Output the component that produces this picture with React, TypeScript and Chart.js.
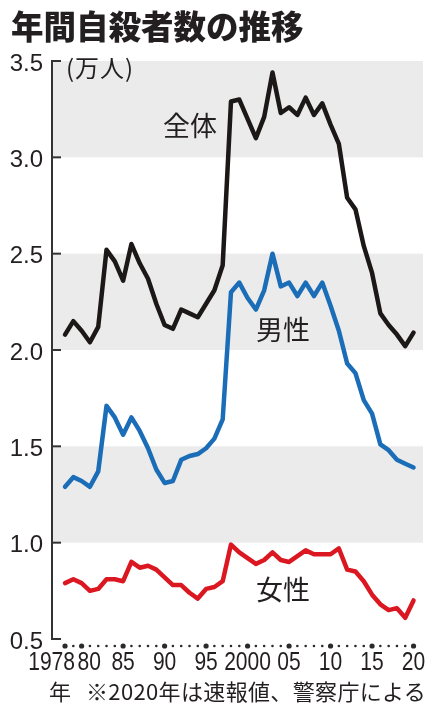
import React, { useEffect, useRef } from "react";
import { Chart, registerables } from "chart.js";

Chart.register(...registerables);

// ---- data (万人) ----
const years = [
  1978, 1979, 1980, 1981, 1982, 1983, 1984, 1985, 1986, 1987, 1988, 1989,
  1990, 1991, 1992, 1993, 1994, 1995, 1996, 1997, 1998, 1999, 2000, 2001,
  2002, 2003, 2004, 2005, 2006, 2007, 2008, 2009, 2010, 2011, 2012, 2013,
  2014, 2015, 2016, 2017, 2018, 2019, 2020,
];
const total = [
  2.08, 2.15, 2.10, 2.04, 2.12, 2.52, 2.46, 2.36, 2.55, 2.45, 2.37, 2.24,
  2.13, 2.11, 2.21, 2.19, 2.17, 2.24, 2.31, 2.44, 3.29, 3.30, 3.20, 3.10,
  3.21, 3.44, 3.23, 3.26, 3.22, 3.31, 3.22, 3.28, 3.17, 3.07, 2.79, 2.73,
  2.54, 2.40, 2.19, 2.13, 2.08, 2.02, 2.09,
];
const male = [
  1.29, 1.34, 1.32, 1.29, 1.37, 1.71, 1.65, 1.56, 1.65, 1.58, 1.49, 1.38,
  1.31, 1.32, 1.43, 1.45, 1.46, 1.49, 1.54, 1.64, 2.30, 2.35, 2.27, 2.21,
  2.31, 2.50, 2.33, 2.35, 2.28, 2.35, 2.28, 2.35, 2.23, 2.10, 1.93, 1.88,
  1.74, 1.67, 1.51, 1.48, 1.43, 1.41, 1.39,
];
const female = [
  0.79, 0.81, 0.79, 0.75, 0.76, 0.81, 0.81, 0.80, 0.90, 0.87, 0.88, 0.86,
  0.82, 0.78, 0.78, 0.74, 0.71, 0.76, 0.77, 0.80, 0.99, 0.95, 0.92, 0.89,
  0.91, 0.95, 0.91, 0.90, 0.93, 0.96, 0.94, 0.94, 0.94, 0.97, 0.86, 0.85,
  0.80, 0.73, 0.68, 0.65, 0.66, 0.61, 0.70,
];
const yTickValues = [0.5, 1.0, 1.5, 2.0, 2.5, 3.0, 3.5];
const xLabelYears = [1978, 1980, 1985, 1990, 1995, 2000, 2005, 2010, 2015, 2020];
const xLabelTexts = ["1978", "80", "85", "90", "95", "2000", "05", "10", "15", "20"];
const bandRanges = [
  [1.0, 1.5],
  [2.0, 2.5],
  [3.0, 3.5],
];

const TITLE = "年間自殺者数の推移";
const UNIT = "(万人)";
const NAME_TOTAL = "全体";
const NAME_MALE = "男性";
const NAME_FEMALE = "女性";
const NOTE_YEAR = "年";
const NOTE = "※2020年は速報値、警察庁による";

const NUM_FONT = '"Liberation Sans", Arial, sans-serif';
const JP_FONT = '"Noto Sans CJK JP", "Noto Sans", sans-serif';
const INK = "#231f20";

const decorPlugin = {
  id: "decor",
  beforeDatasetsDraw(chart: any) {
    const { ctx, chartArea } = chart;
    const y = chart.scales.y;
    ctx.save();
    ctx.fillStyle = "#ebebeb";
    bandRanges.forEach(([a, b]) => {
      const y1 = y.getPixelForValue(b);
      const y2 = y.getPixelForValue(a);
      ctx.fillRect(chartArea.left + 1, y1, chartArea.right - chartArea.left - 1, y2 - y1);
    });
    // y axis line + inward ticks
    ctx.fillStyle = "#333333";
    const ax = chartArea.left - 1;
    const yTop = y.getPixelForValue(3.5);
    const yBot = y.getPixelForValue(0.5);
    ctx.fillRect(ax, yTop - 1, 2, yBot - yTop + 2);
    yTickValues.forEach((v) => {
      ctx.fillRect(ax, y.getPixelForValue(v) - 1, 10, 2);
    });
    ctx.restore();
  },
  afterDraw(chart: any) {
    const { ctx, chartArea } = chart;
    const x = chart.scales.x;
    ctx.save();
    // dotted x axis
    const dotY = chartArea.bottom + 7;
    ctx.fillStyle = "#2a2a2a";
    years.forEach((yr) => {
      const px = x.getPixelForValue(yr);
      const big = xLabelYears.includes(yr);
      ctx.beginPath();
      ctx.arc(px, dotY, big ? 2.6 : 1.3, 0, Math.PI * 2);
      ctx.fill();
    });
    // x labels (condensed)
    const sx = 0.81;
    ctx.font = "26px " + NUM_FONT;
    ctx.fillStyle = INK;
    ctx.textBaseline = "middle";
    xLabelYears.forEach((yr, i) => {
      const px = x.getPixelForValue(yr);
      const txt = xLabelTexts[i];
      const w = ctx.measureText(txt).width * sx;
      let left = px - w / 2;
      if (i === 0) left = px + 10 - w;
      if (i === 1) left = px - 4;
      ctx.save();
      ctx.translate(left, dotY + 17);
      ctx.scale(sx, 1);
      ctx.textAlign = "left";
      ctx.fillText(txt, 0, 0);
      ctx.restore();
    });
    ctx.restore();
  },
};

function pts(values: number[]) {
  return years.map((yr, i) => ({ x: yr, y: values[i] }));
}

function Label(props: {
  text: string;
  left: number;
  top: number;
  size: number;
  weight?: number;
  lh?: number;
  ls?: number;
}) {
  const { text, left, top, size, weight, lh, ls } = props;
  return (
    <div
      style={{
        position: "absolute",
        left,
        top,
        fontFamily: JP_FONT,
        fontSize: size,
        fontWeight: weight ?? 400,
        lineHeight: (lh ?? size) + "px",
        letterSpacing: (ls ?? 0) + "px",
        color: INK,
        whiteSpace: "nowrap",
      }}
    >
      {text}
    </div>
  );
}

export default function App() {
  const ref = useRef<HTMLCanvasElement | null>(null);

  useEffect(() => {
    if (!ref.current) return;
    const mk = (label: string, values: number[], color: string) => ({
      label,
      data: pts(values),
      borderColor: color,
      borderWidth: 4.5,
      pointRadius: 0,
      tension: 0,
      borderJoinStyle: "round",
      borderCapStyle: "round",
    });
    const chart = new Chart(ref.current, {
      type: "line",
      data: {
        datasets: [
          mk(NAME_TOTAL, total, "#1c1817"),
          mk(NAME_MALE, male, "#1a6db6"),
          mk(NAME_FEMALE, female, "#db1821"),
        ],
      },
      options: {
        responsive: false,
        animation: false,
        layout: { padding: { top: 61, right: 10, bottom: 69, left: 0 } },
        plugins: {
          legend: { display: false },
          tooltip: { enabled: false },
          title: { display: false },
        },
        scales: {
          x: { type: "linear", min: 1976.43, max: 2021.14, display: false },
          y: {
            min: 0.5,
            max: 3.5,
            ticks: {
              stepSize: 0.5,
              callback: (v: any) => Number(v).toFixed(1),
              font: { family: NUM_FONT, size: 24 },
              color: INK,
              padding: 9,
              labelOffset: 3,
            },
            grid: { display: false, drawTicks: false },
            border: { display: false },
            afterFit: (s: any) => {
              s.width = 52;
            },
          },
        },
      },
      plugins: [decorPlugin],
    } as any);
    return () => chart.destroy();
  }, []);

  return (
    <div
      style={{
        position: "absolute",
        left: 0,
        top: 0,
        width: 433,
        height: 708,
        background: "#fff",
        overflow: "hidden",
      }}
    >
      <canvas ref={ref} width={433} height={708} style={{ display: "block", width: 433, height: 708 }} />
      <Label text={TITLE} left={11} top={8} size={32.5} weight={900} lh={34} />
      <Label text={UNIT} left={66} top={55} size={24} lh={24} ls={1} />
      <Label text={NAME_TOTAL} left={163} top={110} size={27} lh={30} />
      <Label text={NAME_MALE} left={256} top={314} size={27} lh={30} />
      <Label text={NAME_FEMALE} left={256} top={574} size={27} lh={30} />
      <Label text={NOTE_YEAR} left={49} top={678} size={22} lh={24} />
      <Label text={NOTE} left={86} top={678} size={22} lh={24} ls={0.35} />
    </div>
  );
}
